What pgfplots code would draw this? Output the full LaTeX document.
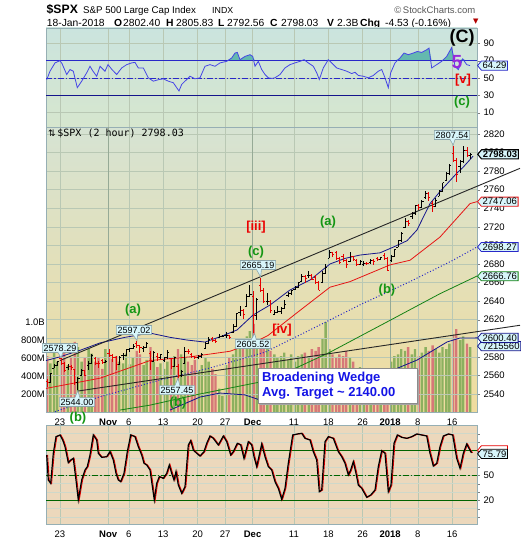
\documentclass[border=0pt]{standalone}
\usepackage{pgfplots}
\pgfplotsset{compat=1.18}
\usepackage{pgfplotstable}
\usetikzlibrary{shapes.symbols,shapes.callouts}
\usepackage{fontspec}
\setmainfont{Liberation Sans}
\newfontfamily\monof{DejaVu Sans Mono}
\newfontfamily\dejavu{DejaVu Sans}

\definecolor{panelborder}{RGB}{150,175,180}
\definecolor{gridc}{RGB}{185,200,180}
\definecolor{gridm}{RGB}{150,170,150}
\definecolor{rsiblue}{RGB}{70,70,230}
\definecolor{rsifill}{RGB}{100,185,175}
\definecolor{lineblue}{RGB}{40,40,200}
\definecolor{navy}{RGB}{20,20,140}
\definecolor{mared}{RGB}{230,20,20}
\definecolor{magreen}{RGB}{20,130,20}
\definecolor{wavegreen}{RGB}{20,150,20}
\definecolor{wavered}{RGB}{235,0,0}
\definecolor{purp}{RGB}{150,40,220}
\definecolor{volgreen}{RGB}{130,172,88}
\definecolor{volred}{RGB}{212,110,115}
\definecolor{lblfill}{RGB}{215,245,250}
\definecolor{lblborder}{RGB}{140,165,170}
\definecolor{stochgreen}{RGB}{0,100,0}
\definecolor{pricered}{RGB}{230,0,0}
\definecolor{wedgeblue}{RGB}{20,20,230}
\definecolor{topA}{RGB}{203,228,222}
\definecolor{topB}{RGB}{214,230,206}
\definecolor{mainA}{RGB}{214,227,211}
\definecolor{mainB}{RGB}{240,220,158}
\definecolor{botbg}{RGB}{236,216,188}

\pgfdeclareplotmark{closetick}{\pgfpathmoveto{\pgfpointorigin}\pgfpathlineto{\pgfpoint{1.7pt}{0pt}}\pgfusepathqstroke}
\pgfdeclareplotmark{opentick}{\pgfpathmoveto{\pgfpointorigin}\pgfpathlineto{\pgfpoint{-1.7pt}{0pt}}\pgfusepathqstroke}

\pgfplotsset{
  upbars/.style={restrict expr to domain={\thisrow{k}}{0.5:1.5}},
  dnbars/.style={restrict expr to domain={\thisrow{k}}{-0.5:0.5}},
  panel/.style={
    scale only axis, width=431pt, xmin=46, xmax=477, clip=false,
    xtick={60,108.2,128.8,163.2,197.6,225.1,252.6,293.9,328.3,362.7,390.2,417.8,452.2},
    xtick style={draw=none},
    ytick pos=right, yticklabel pos=right, tick align=outside, major tick length=3pt,
    grid=major, grid style={gridc, line width=0.5pt},
    axis line style={panelborder, line width=0.9pt},
    ticklabel style={font=\fontsize{9.5}{10}\selectfont},
    /pgf/number format/assume math mode=true, /pgf/number format/1000 sep={},
  },
  datelabels/.style={xticklabels={23,\textbf{Nov},6,13,20,27,\textbf{Dec},11,18,26,\textbf{2018},8,16}},
}

% price bars: day index d, open, high, low, close, k (1 up / 0 down), volume in millions
\pgfplotstableread{
d o h l c k v
-1.85 2553.4 2556.0 2547.9 2552.5 0 620
-1.40 2552.5 2562.4 2552.0 2562.1 1 540
-0.85 2567.6 2572.0 2567.6 2571.0 1 700
-0.40 2571.0 2575.4 2570.0 2575.2 1 560
0.15 2578.1 2578.3 2571.0 2573.0 0 640
0.60 2573.0 2574.0 2564.3 2565.0 0 690
1.15 2568.7 2572.2 2566.0 2570.0 1 520
1.60 2570.0 2571.0 2565.6 2569.1 0 600
2.15 2566.5 2567.4 2550.0 2553.0 0 780
2.60 2553.0 2558.0 2544.0 2557.2 1 720
3.15 2560.1 2567.1 2559.8 2565.0 1 560
3.60 2565.0 2566.0 2560.0 2560.4 0 610
4.15 2570.3 2575.0 2565.9 2573.0 1 700
4.60 2573.0 2583.0 2572.0 2581.1 1 650
5.15 2577.8 2580.0 2571.0 2573.0 0 560
5.60 2573.0 2576.0 2568.3 2572.8 0 600
6.15 2576.0 2578.0 2572.6 2574.0 0 480
6.60 2574.0 2576.5 2573.0 2575.3 1 700
7.15 2583.2 2588.4 2580.0 2582.0 0 640
7.60 2582.0 2583.0 2574.9 2579.4 0 590
8.15 2579.5 2581.1 2566.2 2572.0 0 620
8.60 2572.0 2580.5 2571.0 2579.9 1 560
9.15 2581.9 2584.0 2576.8 2582.0 1 540
9.60 2582.0 2588.4 2581.0 2587.8 1 650
10.15 2587.5 2590.0 2585.7 2589.0 1 530
10.60 2589.0 2593.4 2588.0 2591.1 1 600
11.15 2594.4 2597.0 2590.0 2592.0 0 680
11.60 2592.0 2593.0 2584.4 2590.6 0 640
12.15 2588.7 2592.0 2585.0 2590.0 1 520
12.60 2590.0 2595.5 2589.0 2594.4 1 580
13.15 2584.0 2586.0 2566.3 2575.0 0 720
13.60 2575.0 2586.5 2574.0 2584.6 1 560
14.15 2580.2 2583.8 2575.6 2579.0 0 500
14.60 2579.0 2583.0 2578.0 2582.3 1 540
15.15 2576.5 2580.0 2574.5 2579.0 1 480
15.60 2579.0 2587.7 2578.0 2584.8 1 560
16.15 2577.8 2579.0 2566.6 2570.0 0 600
16.60 2570.0 2579.7 2569.0 2578.9 1 620
17.15 2569.5 2572.8 2557.5 2560.0 0 700
17.60 2560.0 2566.0 2558.0 2564.6 1 640
18.15 2573.0 2590.1 2573.0 2586.0 1 610
18.60 2586.0 2588.0 2583.0 2585.6 0 560
19.15 2582.9 2584.0 2579.0 2580.0 0 520
19.60 2580.0 2581.0 2577.6 2578.9 0 580
20.15 2579.5 2582.0 2578.2 2580.0 1 460
20.60 2580.0 2584.6 2579.0 2582.1 1 520
21.15 2589.2 2596.0 2589.2 2595.0 1 600
21.60 2595.0 2601.2 2594.0 2599.0 1 560
22.15 2600.3 2600.9 2596.0 2598.0 0 480
22.60 2598.0 2599.0 2595.2 2597.1 0 420
23.15 2600.4 2604.2 2600.4 2602.0 1 260
23.60 2602.0 2603.0 2601.0 2602.4 1 180
24.15 2602.7 2606.4 2600.0 2603.0 1 520
24.60 2603.0 2604.0 2598.9 2601.4 0 600
25.15 2605.9 2615.0 2605.4 2613.0 1 640
25.60 2613.0 2627.7 2612.0 2627.0 1 720
26.15 2627.8 2634.9 2624.0 2630.0 1 760
26.60 2630.0 2632.0 2620.3 2626.1 0 820
27.15 2633.9 2648.0 2633.9 2645.0 1 840
27.60 2645.0 2657.7 2644.0 2647.6 1 900
28.15 2645.1 2650.6 2605.5 2625.0 0 980
28.60 2625.0 2643.0 2620.0 2642.2 1 760
29.15 2657.2 2665.2 2650.0 2652.0 0 820
29.60 2652.0 2654.0 2639.0 2639.4 0 760
30.15 2639.8 2648.7 2636.0 2640.0 1 700
30.60 2640.0 2641.0 2627.7 2629.6 0 680
31.15 2626.2 2630.0 2624.8 2628.0 1 640
31.60 2628.0 2634.4 2627.0 2629.3 1 600
32.15 2628.4 2634.0 2626.5 2632.0 1 620
32.60 2632.0 2641.0 2631.0 2637.0 1 660
33.15 2646.2 2650.0 2644.1 2648.0 1 580
33.60 2648.0 2651.7 2647.0 2651.5 1 640
34.15 2652.2 2656.0 2651.5 2655.0 1 560
34.60 2655.0 2660.3 2654.0 2660.0 1 620
35.15 2661.7 2669.7 2661.0 2667.0 1 640
35.60 2667.0 2668.0 2659.8 2664.1 0 660
36.15 2667.6 2671.9 2665.0 2668.0 1 620
36.60 2668.0 2669.0 2662.9 2662.9 0 700
37.15 2665.9 2668.1 2659.0 2660.0 0 680
37.60 2660.0 2662.0 2652.0 2652.0 0 720
38.15 2660.6 2672.0 2659.1 2670.0 1 820
38.60 2670.0 2679.6 2669.0 2675.8 1 1000
39.15 2685.9 2695.0 2685.9 2692.0 1 700
39.60 2692.0 2693.0 2688.0 2690.2 0 640
40.15 2692.7 2694.4 2684.0 2686.0 0 600
40.60 2686.0 2687.0 2680.7 2681.5 0 640
41.15 2688.2 2691.0 2682.0 2684.0 0 620
41.60 2684.0 2685.0 2676.1 2679.3 0 680
42.15 2683.0 2692.6 2682.4 2688.0 1 600
42.60 2688.0 2689.0 2683.0 2684.6 0 560
43.15 2684.2 2685.4 2678.1 2680.0 0 460
43.60 2680.0 2684.0 2679.0 2683.3 1 500
44.15 2679.1 2682.7 2678.0 2681.0 1 340
44.60 2681.0 2682.0 2679.0 2680.5 0 380
45.15 2682.1 2685.6 2680.0 2684.0 1 380
45.60 2684.0 2685.0 2678.9 2682.6 0 420
46.15 2686.1 2687.0 2682.7 2685.0 0 360
46.60 2685.0 2687.7 2684.0 2687.5 1 400
47.15 2689.2 2692.1 2684.0 2686.0 0 420
47.60 2686.0 2687.0 2673.6 2673.6 0 480
48.15 2683.7 2690.0 2682.4 2688.0 1 560
48.60 2688.0 2695.9 2687.0 2695.8 1 620
49.15 2697.9 2706.0 2697.8 2705.0 1 640
49.60 2705.0 2714.4 2704.0 2713.1 1 700
50.15 2719.3 2729.3 2719.1 2726.0 1 680
50.60 2726.0 2727.0 2721.0 2724.0 0 720
51.15 2731.3 2736.0 2727.9 2734.0 1 640
51.60 2734.0 2743.5 2733.0 2743.2 1 700
52.15 2742.7 2745.0 2737.6 2741.0 0 620
52.60 2741.0 2748.5 2740.0 2747.7 1 660
53.15 2751.2 2759.1 2750.0 2756.0 1 720
53.60 2756.0 2757.0 2747.9 2751.3 0 680
54.15 2745.6 2748.0 2736.1 2742.0 0 740
54.60 2742.0 2750.8 2741.0 2748.2 1 700
55.15 2753.0 2760.0 2752.8 2758.0 1 660
55.60 2758.0 2767.6 2757.0 2767.6 1 720
56.15 2770.2 2779.0 2769.6 2777.0 1 700
56.60 2777.0 2787.9 2776.0 2786.2 1 760
57.15 2799.0 2807.5 2790.0 2792.0 0 860
57.60 2792.0 2794.0 2768.6 2776.4 0 920
58.15 2785.0 2792.0 2778.4 2790.0 1 800
58.60 2790.0 2807.0 2789.0 2802.6 1 840
59.15 2802.4 2805.8 2795.0 2797.0 0 760
59.60 2797.0 2800.0 2792.6 2798.0 1 720
}\price

\pgfplotstableread{
x v
46.7 48
50 57.8
55 67.4
60 70
62 66.6
66.7 54
70 59.7
73.3 57.8
77.3 38.8
81.7 46.3
86.7 56
90 63.5
93 57.8
96.7 52
100 63.5
105 57.8
108 65.4
112 59.7
116.7 54
121.7 61.6
126.7 65.4
131.7 67.4
135 68
138.3 61.6
143.3 61.6
148.3 50.2
153.3 46.3
158.3 48
163.3 49
168.3 46.3
173.3 44.5
176.7 38.8
179 35
181.7 42.6
185 46.3
190 52
195 49
200 50.2
205 63.5
210 65.4
215 63.5
220 67.4
226.7 69.2
231.7 73.1
235 78.8
237.3 79.5
240 71.1
245 74.9
250 76.9
252.7 74.9
255 63.5
258.3 69.2
261.7 59.7
265 54
268.3 50.2
271.7 49.5
275 50.2
280 54
285 61.6
290 65.4
295 67.4
300 69.2
304 71.1
308.3 67.4
313.3 63.5
316.7 56
319.3 48.3
323.3 61.6
328.3 71.1
331.7 67.4
336.7 61.6
341.7 59.7
346.7 57.8
351.7 55.1
355 56.6
358.3 52.9
363.3 52
368.3 50.2
373.3 52.9
378.3 57.8
381.7 59.7
385 50.2
388.3 38.8
390.7 56
395 67.4
400 73.1
404 78.8
408.3 76.9
413.3 78.8
417.3 80.6
421.7 79.5
426.7 82.6
429 84.5
431.7 61.6
436.7 65.4
441.7 69.2
446.7 74.9
451.7 85.2
455 63.5
458.3 59.7
462.7 72
466.7 65.4
470 64.3
}\rsi

\pgfplotstableread{
x v
46.7 74.4
48.3 44.4
50.7 40.4
53.3 76.4
56 96.4
60 98.4
62.7 92.4
65 84.4
68.3 65.2
70.7 68.4
73.3 70.4
76 44.4
78.3 20.4
81.7 44.4
85 56.4
87.3 60.4
90 74.4
93.3 98.4
96.7 92.4
98.3 76.4
101.7 71.6
106.7 72.4
110 78.4
113.3 68.4
116 52.4
118.3 44.4
120.7 42.4
124 52.4
127.3 78.4
130.7 98.4
135 96.4
138.3 84.4
141.7 74.4
144 64.4
146.7 62.4
150 56.4
154.3 20.4
156.7 40.4
159.3 48.4
163.3 46.4
166.7 52.4
169.3 62.4
171.7 52.4
174 44.4
176 54.4
178.3 38.4
181.7 28.4
185 36.4
188.3 86.4
190.7 91.6
193.3 80.4
196.7 76.4
200 73.2
204 78.4
206.7 88.4
210 97.2
213.3 94.4
218.3 86.4
223.3 97.2
226.7 90.4
230.7 74.4
233.3 78.4
237.3 88.4
240.7 86.4
244 70.4
248.3 90.4
251.7 86.4
254 72.4
256.7 60.4
261.7 87.6
265 72.4
268.3 60.4
271.7 56.4
275 42.4
278.3 34.4
281.7 21.2
285 34.4
288.3 64.4
292.7 98.4
297.3 99.6
301.7 100.4
305 94.4
310 92.4
313.3 78.4
316.7 68.4
319.3 30.4
321.7 32.4
325 90.4
328.3 96.4
333.3 94.4
338.3 78.4
341.7 72.4
345 64.4
348.3 50.4
350.7 56.4
353.3 66.4
356 52.4
358.3 38.4
361.7 34.4
366.7 23.6
370.7 26.4
375 32.4
378.3 60.4
381.7 79.6
385 76.4
388.3 30.4
391 38.4
394 88.4
397.3 98.4
401.7 95.6
406.7 94.4
411.7 96.4
416.7 99.6
421.7 98.4
426.7 97.2
430 76.4
433.3 61.2
436.7 64.4
440 84.4
443.3 97.2
448.3 99.6
452.7 98.4
456.7 70.4
460 58.4
463.3 76.4
466.7 87.6
470.7 78.4
471.7 77.2
}\stoch

\begin{document}
\begin{tikzpicture}[x=1pt,y=1pt]
\fill[white] (0,0) rectangle (520,540);

% ---------------- header ----------------
\node[anchor=base west, inner sep=0] at (46.5,526.5) {\fontsize{12.2}{14}\selectfont\bfseries \$SPX};
\node[anchor=base west, inner sep=0] at (83,526.5) {\fontsize{9.7}{12}\selectfont S\&P 500 Large Cap Index};
\node[anchor=base west, inner sep=0] at (212,526.5) {\fontsize{8.8}{12}\selectfont INDX};
\node[anchor=base east, inner sep=0, text=black!65] at (475.5,526.5) {\fontsize{9.5}{12}\selectfont \textcopyright\,StockCharts.com};
\begin{scope}[every node/.style={anchor=base west, inner sep=0, font=\fontsize{10.3}{12}\selectfont}]
\node at (46.7,513.5) {18-Jan-2018};
\node at (114,513.5) {\textbf{O}};
\node at (123,513.5) {2802.40};
\node at (166,513.5) {\textbf{H}};
\node at (176,513.5) {2805.83};
\node at (218,513.5) {\textbf{L}};
\node at (227,513.5) {2792.56};
\node at (270,513.5) {\textbf{C}};
\node at (281,513.5) {2798.03};
\node at (327,513.5) {\textbf{V}};
\node at (337,513.5) {2.3B};
\node at (360,513.5) {\textbf{Chg}};
\node at (385,513.5) {-4.53 (-0.16\%)};
\node[text=red!70!black] at (473,516.5) {\dejavu\fontsize{7}{8}\selectfont ▼};
\end{scope}

% ---------------- backgrounds ----------------
\shade[top color=mainA, bottom color=mainB] (46,128) rectangle (477,413);
\shade[top color=topA, bottom color=topB] (46,413) rectangle (477,512);
\fill[botbg] (46,16) rectangle (477,115);

% ---------------- top panel (RSI) ----------------
\begin{axis}[panel, at={(46pt,413pt)}, anchor=south west, height=99pt,
  ymin=-6.6, ymax=107.7, ytick={10,30,50,70,90}, xticklabels={}]
\addplot[fill=rsifill, draw=none, forget plot] table[x=x, y expr={max(\thisrow{v},70)}] {\rsi} -- (axis cs:470,70) -- (axis cs:46.7,70) -- cycle;
\addplot[lineblue, line width=0.8pt] coordinates {(46,70) (477,70)};
\addplot[lineblue, line width=0.8pt, dash pattern=on 6pt off 2pt on 1.5pt off 2pt] coordinates {(46,50) (477,50)};
\addplot[navy, line width=1pt] coordinates {(46,30) (477,30)};
\addplot[rsiblue, line width=0.8pt] table[x=x, y=v] {\rsi};
\node[font=\fontsize{18}{20}\selectfont\bfseries] at (axis cs:462,96) {(C)};
\node[font=\fontsize{19}{20}\selectfont\bfseries, text=purp] at (axis cs:457,68) {5};
\node[font=\fontsize{13}{14}\selectfont\bfseries, text=wavered] at (axis cs:463,48) {[v]};
\node[font=\fontsize{13}{14}\selectfont\bfseries, text=wavegreen] at (axis cs:462,22) {(c)};
\node[signal, signal to=west, signal pointer angle=100, draw=lineblue, fill=lblfill, line width=0.8pt, inner sep=1.2pt, anchor=west, font=\fontsize{9.5}{10}\selectfont] at (axis cs:477,64.29) {64.29};
\end{axis}

% ---------------- volume (behind price) ----------------
\begin{axis}[at={(46pt,128pt)}, anchor=south west, scale only axis, width=431pt, height=285pt,
  xmin=46, xmax=477, ymin=0, ymax=3167, axis line style={draw=none}, xtick=\empty,
  ytick={200,400,600,800,1000}, yticklabels={200M,400M,600M,800M,1.0B},
  ytick pos=left, ytick style={draw=none},
  yticklabel style={font=\fontsize{9.5}{10}\selectfont, inner sep=1pt}]
\addplot[ybar, bar width=2.4pt, bar shift=0pt, fill=volgreen, fill opacity=0.9, draw=none, upbars]
  table[x expr=60+6.88*\thisrow{d}, y=v] {\price};
\addplot[ybar, bar width=2.4pt, bar shift=0pt, fill=volred, fill opacity=0.9, draw=none, dnbars]
  table[x expr=60+6.88*\thisrow{d}, y=v] {\price};
\end{axis}

% ---------------- main price panel ----------------
\begin{axis}[panel, datelabels, at={(46pt,128pt)}, anchor=south west, height=285pt,
  ymin=2520.6, ymax=2827.5, ytick={2540,2560,...,2820}]
% darker month grid lines
\addplot[gridm, line width=0.6pt, forget plot] coordinates {(108.2,2520.6) (108.2,2827.5)};
\addplot[gridm, line width=0.6pt, forget plot] coordinates {(252.6,2520.6) (252.6,2827.5)};
\addplot[gridm, line width=0.6pt, forget plot] coordinates {(390.2,2520.6) (390.2,2827.5)};
% moving averages
\addplot[navy, line width=0.8pt] coordinates {(170,2522.7) (200,2536.7) (220,2541) (245,2539) (260,2533.5) (300,2535) (340,2542) (370,2550) (393,2565.8) (417,2576.5) (447,2596) (460,2600.3) (477,2600.4)};
\addplot[magreen, line width=0.8pt] coordinates {(120,2522.7) (150,2528) (200,2540) (270,2555) (330,2585) (393,2621) (440,2648) (477,2667)};
\addplot[lineblue, line width=1pt, dotted] coordinates {(55,2521) (100,2537) (160,2555) (210,2568) (265,2585) (310,2609) (360,2636) (410,2661) (453,2684) (477,2698.3)};
\addplot[mared, line width=0.8pt] coordinates {(46,2546) (100,2557) (150,2576) (190,2580) (230,2586) (255,2596) (268,2603) (300,2630) (330,2655) (350,2661) (390,2679) (410,2684) (440,2709) (450,2721) (470,2745) (477,2747.1)};
\addplot[navy, line width=0.8pt] coordinates {(46,2576) (60,2580) (80,2587) (100,2595) (125,2601) (150,2605.6) (170,2601) (187,2598.1) (205,2595.9) (222,2602.4) (237,2608.9) (253,2625) (270,2635.8) (290,2652) (310,2662.7) (330,2680) (345,2686) (360,2689.6) (380,2692) (393,2698) (407,2705) (417,2716.6) (430,2745) (440,2758) (457,2778) (463,2784) (473,2796)};
% wedge lines
\addplot[black!85, line width=0.9pt] coordinates {(60,2576) (520,2783)};
\addplot[black!85, line width=0.9pt] coordinates {(77,2543) (520,2614)};
% price bars
\addplot[black, line width=0.8pt, only marks, mark=closetick, mark options={line width=0.8pt}, upbars,
  error bars/.cd, y dir=both, y explicit, error mark=none, error bar style={line width=0.8pt, black}]
  table[x expr=60+6.88*\thisrow{d}, y=c, y error plus expr=\thisrow{h}-\thisrow{c}, y error minus expr=\thisrow{c}-\thisrow{l}] {\price};
\addplot[black, only marks, mark=opentick, mark options={line width=0.8pt}, upbars]
  table[x expr=60+6.88*\thisrow{d}, y=o] {\price};
\addplot[pricered, line width=0.8pt, only marks, mark=closetick, mark options={line width=0.8pt}, dnbars,
  error bars/.cd, y dir=both, y explicit, error mark=none, error bar style={line width=0.8pt, pricered}]
  table[x expr=60+6.88*\thisrow{d}, y=c, y error plus expr=\thisrow{h}-\thisrow{c}, y error minus expr=\thisrow{c}-\thisrow{l}] {\price};
\addplot[pricered, only marks, mark=opentick, mark options={line width=0.8pt}, dnbars]
  table[x expr=60+6.88*\thisrow{d}, y=o] {\price};
% panel title
\node[anchor=base west, inner sep=0] at (axis cs:48,2817) {{\dejavu\fontsize{9}{10}\selectfont ⇅}\,{\monof\fontsize{10}{11}\selectfont \$SPX (2 hour) 2798.03}};
% callout labels
\begin{scope}[every node/.style={rectangle callout, fill=lblfill, draw=lblborder, line width=0.6pt, inner sep=1.3pt, callout pointer width=5pt, font=\fontsize{9}{10}\selectfont}]
\node[callout absolute pointer={(axis cs:61,2579)}] at (axis cs:60,2589.5) {2578.29};
\node[callout absolute pointer={(axis cs:137,2597.5)}] at (axis cs:134,2608.9) {2597.02};
\node[callout absolute pointer={(axis cs:260.6,2666)}] at (axis cs:258,2678.9) {2665.19};
\node[callout absolute pointer={(axis cs:254.7,2605)}] at (axis cs:253,2593.8) {2605.52};
\node[callout absolute pointer={(axis cs:178,2557)}] at (axis cs:177,2544.2) {2557.45};
\node[callout absolute pointer={(axis cs:77.9,2543.5)}] at (axis cs:77,2531.3) {2544.00};
\node[callout absolute pointer={(axis cs:453.2,2808)}] at (axis cs:452,2818.9) {2807.54};
\end{scope}
% wave labels
\begin{scope}[every node/.style={font=\fontsize{13}{14}\selectfont\bfseries}]
\node[text=wavered] at (axis cs:256,2719.8) {[iii]};
\node[text=wavegreen] at (axis cs:256,2692.9) {(c)};
\node[text=wavegreen] at (axis cs:328,2725.2) {(a)};
\node[text=wavegreen] at (axis cs:133,2630.4) {(a)};
\node[text=wavered] at (axis cs:282,2608.9) {[iv]};
\node[text=wavegreen] at (axis cs:387,2652) {(b)};
\node[text=wavegreen] at (axis cs:178,2530.2) {(b)};
\node[text=wavegreen] at (axis cs:78,2514.1) {(b)};
\end{scope}
% broadening wedge box
\fill[black!35] (axis cs:260,2566) rectangle (axis cs:419,2528.2);
\draw[fill=white, draw=black!45, line width=0.8pt] (axis cs:258,2568) rectangle (axis cs:417,2530.2);
\node[anchor=base west, inner sep=0, text=wedgeblue, font=\fontsize{13}{14}\selectfont\bfseries] at (axis cs:262,2553.5) {Broadening Wedge};
\node[anchor=base west, inner sep=0, text=wedgeblue, font=\fontsize{13}{14}\selectfont\bfseries] at (axis cs:262,2537.5) {Avg. Target \textasciitilde{} 2140.00};
% right side value labels
\begin{scope}[every node/.style={signal, signal to=west, signal pointer angle=100, fill=lblfill, line width=0.8pt, inner sep=1.2pt, anchor=west, font=\fontsize{9.5}{10}\selectfont}]
\node[draw=navy] at (axis cs:477,2591.5) {7215560};
\node[draw=navy] at (axis cs:477,2600.4) {2600.40};
\node[draw=magreen] at (axis cs:477,2666.76) {2666.76};
\node[draw=lineblue] at (axis cs:477,2698.27) {2698.27};
\node[draw=mared] at (axis cs:477,2747.06) {2747.06};
\node[draw=black, line width=1.1pt, font=\fontsize{9.5}{10}\selectfont\bfseries] at (axis cs:477,2798.03) {2798.03};
\end{scope}
\end{axis}

% ---------------- bottom panel (stochastic) ----------------
\begin{axis}[panel, datelabels, at={(46pt,16pt)}, anchor=south west, height=99pt,
  ymin=-8.4, ymax=110.4, ytick={20,50},
  minor ytick={0,10,...,100}, grid=both, minor grid style={gridc!70, line width=0.4pt}]
\addplot[stochgreen, line width=0.9pt] coordinates {(46,80) (477,80)};
\addplot[stochgreen, line width=0.9pt] coordinates {(46,20) (477,20)};
\addplot[stochgreen, line width=0.8pt, dash pattern=on 6pt off 2pt on 1.5pt off 2pt] coordinates {(46,50) (477,50)};
\addplot[pricered, line width=0.9pt, xshift=0.9pt] table[x=x, y=v] {\stoch};
\addplot[black, line width=1.2pt] table[x=x, y=v] {\stoch};
\node[signal, signal to=west, signal pointer angle=100, draw=pricered, fill=white, line width=0.8pt, inner sep=1.2pt, anchor=west, font=\fontsize{9.5}{10}\selectfont] at (axis cs:477,80) {\phantom{75.79}};
\node[signal, signal to=west, signal pointer angle=100, draw=black, fill=lblfill, line width=0.8pt, inner sep=1.2pt, anchor=west, font=\fontsize{9.5}{10}\selectfont] at (axis cs:477,75.79) {75.79};
\end{axis}
\pgfresetboundingbox
\useasboundingbox (0,0) rectangle (520,540);
\end{tikzpicture}
\end{document}
